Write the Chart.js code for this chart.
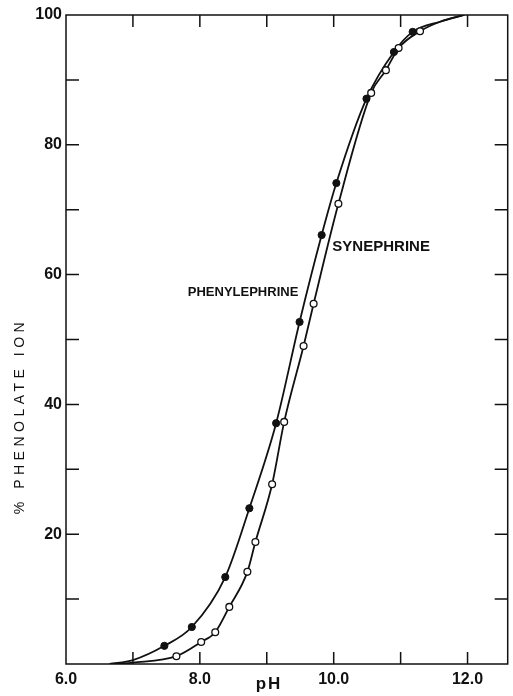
<!DOCTYPE html>
<html>
<head>
<meta charset="utf-8">
<script src="https://cdn.jsdelivr.net/npm/chart.js@4.4.1/dist/chart.umd.min.js"></script>
<style>
html, body { margin: 0; padding: 0; background: #fff; }
#wrap { width: 513px; height: 696px; }
</style>
</head>
<body>
<div id="wrap"><canvas id="chart" width="513" height="696"></canvas></div>
<script>
// measured points (filled = phenylephrine, open = synephrine)
var pheMeasPH  = [7.47, 7.88, 8.38, 8.74, 9.14, 9.49, 9.82, 10.04, 10.49, 10.90, 11.18];
var pheMeasPct = [2.8, 5.7, 13.4, 24.0, 37.1, 52.7, 66.1, 74.1, 87.1, 94.3, 97.4];
var synMeasPH  = [7.65, 8.02, 8.23, 8.44, 8.71, 8.83, 9.08, 9.26, 9.55, 9.70, 10.07, 10.56, 10.78, 10.97, 11.29];
var synMeasPct = [1.2, 3.4, 4.9, 8.8, 14.2, 18.8, 27.7, 37.3, 49.0, 55.5, 70.9, 88.0, 91.5, 94.9, 97.5];

// hand drawn curves
var pheCurvePH  = [6.65, 7.0, 7.47, 7.88, 8.38, 8.74, 9.14, 9.49, 9.82, 10.04, 10.49, 10.90, 11.18, 11.6, 11.95];
var pheCurvePct = [0, 0.6, 2.8, 5.7, 13.4, 24.0, 37.1, 52.7, 66.1, 74.1, 87.1, 94.3, 97.4, 99.0, 100];
var synCurvePH  = [6.75, 7.0, 7.65, 8.02, 8.23, 8.44, 8.71, 8.83, 9.08, 9.26, 9.55, 9.70, 10.07, 10.56, 10.78, 10.97, 11.29, 11.6, 11.95];
var synCurvePct = [0, 0.2, 1.2, 3.4, 4.9, 8.8, 14.2, 18.8, 27.7, 37.3, 49.0, 55.5, 70.9, 88.0, 91.5, 94.9, 97.5, 99.0, 100];

var xTickLabels = ['6.0', '8.0', '10.0', '12.0'];
var yTickLabels = ['20', '40', '60', '80', '100'];

var FONT = "'Liberation Sans', Arial, sans-serif";

function toXY(xs, ys) {
	return xs.map(function(x, i) { return { x: x, y: ys[i] }; });
}

// box, inward ticks, curve names and axis titles
var frame = {
	id: 'frame',
	afterDatasetsDraw: function(chart) {
		var ctx = chart.ctx, a = chart.chartArea;
		var xs = chart.scales.x, ys = chart.scales.y;
		ctx.save();
		ctx.strokeStyle = '#111';
		ctx.lineWidth = 1.5;
		ctx.strokeRect(a.left, a.top, a.right - a.left, a.bottom - a.top);

		ctx.beginPath();
		xs.ticks.forEach(function(t) {
			var px = xs.getPixelForValue(t.value);
			if (px <= a.left + 2 || px >= a.right - 2) return;
			ctx.moveTo(px, a.bottom); ctx.lineTo(px, a.bottom - 12);
			ctx.moveTo(px, a.top); ctx.lineTo(px, a.top + 12);
		});
		ys.ticks.forEach(function(t) {
			var py = ys.getPixelForValue(t.value);
			if (py <= a.top + 2 || py >= a.bottom - 2) return;
			ctx.moveTo(a.left, py); ctx.lineTo(a.left + 13, py);
			ctx.moveTo(a.right, py); ctx.lineTo(a.right - 13, py);
		});
		ctx.stroke();

		ctx.fillStyle = '#111';
		ctx.textBaseline = 'middle';
		ctx.textAlign = 'left';
		ctx.font = 'bold 13px ' + FONT;
		ctx.fillText('PHENYLEPHRINE', xs.getPixelForValue(7.82), ys.getPixelForValue(57.3));
		ctx.font = 'bold 15px ' + FONT;
		ctx.fillText('SYNEPHRINE', xs.getPixelForValue(9.98), ys.getPixelForValue(64.3));

		ctx.textAlign = 'center';
		ctx.font = 'bold 17px ' + FONT;
		ctx.letterSpacing = '2px';
		ctx.fillText('pH', 269, 684);

		ctx.translate(20, 416);
		ctx.rotate(-Math.PI / 2);
		ctx.font = '14px ' + FONT;
		ctx.letterSpacing = '4.5px';
		ctx.fillText('% PHENOLATE ION', 0, 0);
		ctx.restore();
	}
};

new Chart(document.getElementById('chart').getContext('2d'), {
	type: 'scatter',
	data: {
		datasets: [
			{
				label: 'Phenylephrine curve',
				data: toXY(pheCurvePH, pheCurvePct),
				showLine: true,
				borderColor: '#111',
				borderWidth: 1.8,
				pointRadius: 0,
				cubicInterpolationMode: 'monotone',
				order: 2
			},
			{
				label: 'Synephrine curve',
				data: toXY(synCurvePH, synCurvePct),
				showLine: true,
				borderColor: '#111',
				borderWidth: 1.8,
				pointRadius: 0,
				cubicInterpolationMode: 'monotone',
				order: 2
			},
			{
				label: 'Phenylephrine',
				data: toXY(pheMeasPH, pheMeasPct),
				pointRadius: 3.6,
				pointBackgroundColor: '#111',
				pointBorderColor: '#111',
				pointBorderWidth: 1,
				order: 1
			},
			{
				label: 'Synephrine',
				data: toXY(synMeasPH, synMeasPct),
				pointRadius: 3.4,
				pointBackgroundColor: '#fff',
				pointBorderColor: '#111',
				pointBorderWidth: 1.3,
				order: 1
			}
		]
	},
	options: {
		responsive: false,
		animation: false,
		layout: { padding: { top: 15, right: 3, left: 0, bottom: 0 } },
		plugins: {
			legend: { display: false },
			tooltip: { enabled: false }
		},
		scales: {
			x: {
				type: 'linear',
				min: 6,
				max: 12.6,
				grid: { display: false, drawTicks: false },
				border: { display: false },
				ticks: {
					stepSize: 1,
					includeBounds: false,
					autoSkip: false,
					maxRotation: 0,
					padding: 6,
					color: '#111',
					font: { family: FONT, size: 16, weight: 'bold' },
					callback: function(v) {
						var s = Number(v).toFixed(1);
						return xTickLabels.indexOf(s) >= 0 ? s : '';
					}
				},
				afterFit: function(scale) { scale.height = 32; }
			},
			y: {
				min: 0,
				max: 100,
				grid: { display: false, drawTicks: false },
				border: { display: false },
				ticks: {
					stepSize: 10,
					autoSkip: false,
					padding: 4,
					color: '#111',
					font: { family: FONT, size: 16, weight: 'bold' },
					callback: function(v) {
						var s = String(v);
						return yTickLabels.indexOf(s) >= 0 ? s : '';
					}
				},
				afterFit: function(scale) { scale.width = 66; }
			}
		}
	},
	plugins: [frame]
});
</script>
</body>
</html>
